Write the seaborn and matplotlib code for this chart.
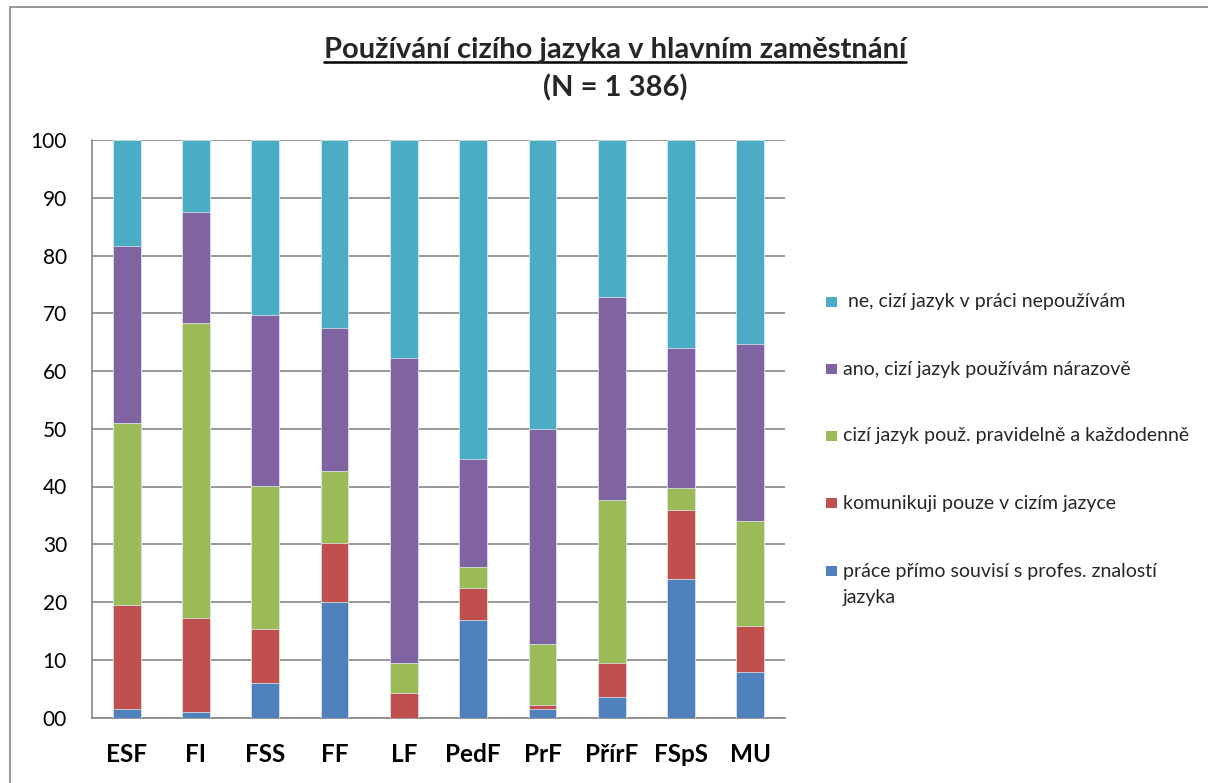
import numpy as np
import matplotlib
matplotlib.use("Agg")
import matplotlib.pyplot as plt
from matplotlib.patches import Rectangle
from matplotlib.lines import Line2D
import seaborn as sns

# Faculties
faculties = ["ESF", "FI", "FSS", "FF", "LF", "PedF", "PrF", "PřírF", "FSpS", "MU"]

# Shares (%) of each answer per faculty, stacked bottom to top
prime_souvisi = [1.4, 0.9, 6.0, 20.0, 0.0, 16.9, 1.5, 3.5, 23.9, 7.8]
pouze_cizi = [18.1, 16.4, 9.3, 10.2, 4.2, 5.5, 0.7, 6.0, 12.0, 8.0]
pravidelne = [31.5, 51.0, 24.8, 12.5, 5.2, 3.6, 10.5, 28.1, 3.9, 18.3]
narazove = [30.7, 19.3, 29.6, 24.7, 52.9, 18.8, 37.2, 35.3, 24.1, 30.6]
nepouzivam = [18.3, 12.4, 30.3, 32.6, 37.7, 55.2, 50.1, 27.1, 36.1, 35.3]

series_labels = [
    "práce přímo souvisí s profes. znalostí\njazyka",
    "komunikuji pouze v cizím jazyce",
    "cizí jazyk použ. pravidelně a každodenně",
    "ano, cizí jazyk používám nárazově",
    " ne, cizí jazyk v práci nepoužívám",
]
series_colors = ["#4F81BD", "#C0504D", "#9BBB59", "#8064A2", "#4BACC6"]

y_ticks = [0, 10, 20, 30, 40, 50, 60, 70, 80, 90, 100]
y_tick_labels = ["00", "10", "20", "30", "40", "50", "60", "70", "80", "90", "100"]

sns.set_style("white")
plt.rcParams["font.family"] = ["Lato", "DejaVu Sans"]

W, H = 1208, 783
fig = plt.figure(figsize=(W / 100, H / 100), dpi=100)
ax = fig.add_axes([92 / W, 1 - 717.5 / H, (785 - 92) / W, (717.5 - 140) / H])

# Stacked bars: draw cumulative totals from the top segment down
segments = [prime_souvisi, pouze_cizi, pravidelne, narazove, nepouzivam]
cum = np.cumsum(np.array(segments, dtype=float), axis=0)
for i in range(len(segments) - 1, -1, -1):
    sns.barplot(x=faculties, y=cum[i], color=series_colors[i], width=0.4,
                saturation=1, errorbar=None, edgecolor="#e6eef5",
                linewidth=0.5, ax=ax, zorder=3)

grid_col = "#868686"
ax.set_ylim(0, 100)
ax.set_xlim(-0.5, len(faculties) - 0.5)
ax.set_yticks(y_ticks)
ax.set_yticklabels(y_tick_labels, fontsize=15)
ax.yaxis.grid(True, color=grid_col, linewidth=1.2, zorder=0)
ax.xaxis.grid(False)
ax.set_axisbelow(True)
ax.set_xlabel("")
ax.set_ylabel("")

ax.set_xticks(np.arange(len(faculties)))
ax.set_xticklabels(faculties, fontsize=17.5, fontweight="bold")
ax.set_xticks(np.arange(len(faculties) + 1) - 0.5, minor=True)
ax.tick_params(axis="x", which="major", length=0, pad=18)
ax.tick_params(axis="x", which="minor", length=7, width=1.2, color=grid_col,
               direction="out")
ax.tick_params(axis="y", which="major", length=6, width=1.2, color=grid_col,
               direction="out", pad=12)
ax.tick_params(axis="both", labelcolor="black")

for side in ["top", "right"]:
    ax.spines[side].set_visible(False)
for side in ["left", "bottom"]:
    ax.spines[side].set_visible(True)
    ax.spines[side].set_color(grid_col)
    ax.spines[side].set_linewidth(1.2)

# Outer chart frame
fig.patches.append(Rectangle((10 / W, -0.05), 1.2, 1.05 - 7 / H,
                             transform=fig.transFigure, fill=False,
                             edgecolor=grid_col, linewidth=1.2))

# Title with underline
t1 = fig.text(615 / W, 1 - 50 / H, "Používání cizího jazyka v hlavním zaměstnání",
              ha="center", va="center", fontsize=21, fontweight="bold")
fig.text(615 / W, 1 - 88 / H, "(N = 1 386)", ha="center", va="center",
         fontsize=21, fontweight="bold")
fig.canvas.draw()
bb = t1.get_window_extent(renderer=fig.canvas.get_renderer())
uy = (bb.y0 + 1) / H
fig.add_artist(Line2D([bb.x0 / W, bb.x1 / W], [uy, uy], transform=fig.transFigure,
                      color="black", linewidth=1.8))

# Legend, top entry first
legend_y = [302, 369, 436, 503, 571]
for k, y in enumerate(legend_y):
    i = len(segments) - 1 - k
    fig.patches.append(Rectangle((826 / W, 1 - (y + 5) / H), 11 / W, 10 / H,
                                 transform=fig.transFigure,
                                 facecolor=series_colors[i], edgecolor="none"))
    lines = series_labels[i].split("\n")
    for j, line in enumerate(lines):
        fig.text(843 / W, 1 - (y + 27 * j) / H, line, ha="left", va="center",
                 fontsize=14)

fig.savefig("out.png", dpi=100)
